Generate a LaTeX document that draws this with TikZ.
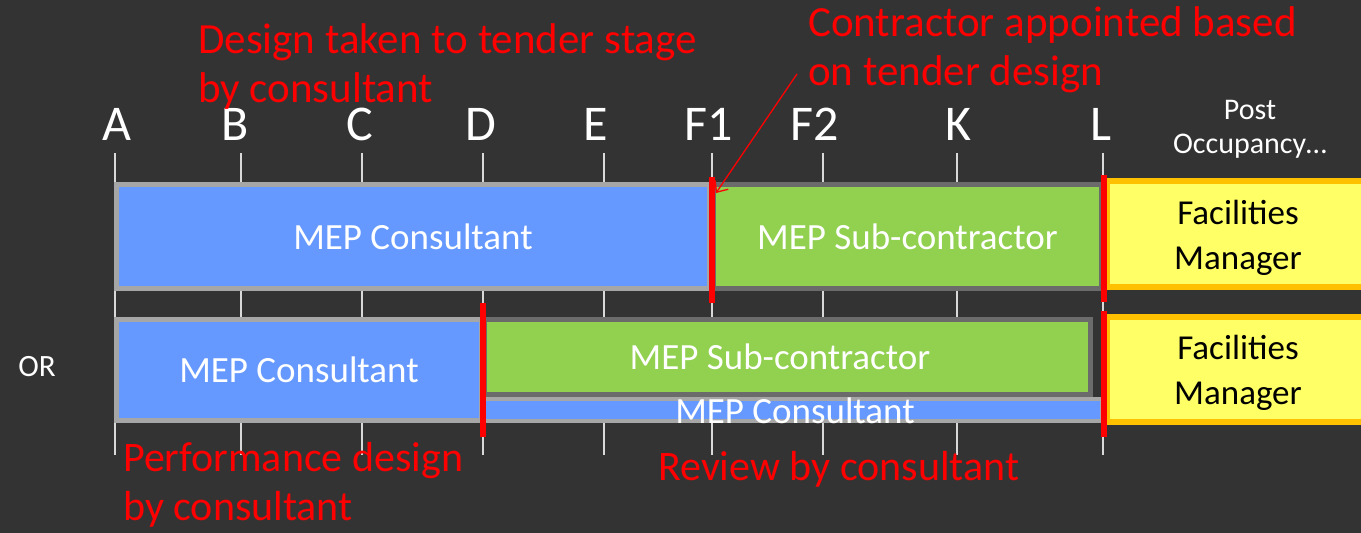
\documentclass[tikz,border=0pt]{standalone}
\usepackage{fontspec}
\setmainfont{Carlito}
\usetikzlibrary{arrows.meta}
\definecolor{bg}{HTML}{333333}
\definecolor{mblue}{HTML}{6699FF}
\definecolor{mgreen}{HTML}{92D050}
\definecolor{myellow}{HTML}{FFFF66}
\definecolor{mgold}{HTML}{FFC000}
\definecolor{lgray}{HTML}{A6A6A6}
\definecolor{dgray}{HTML}{6B6B6B}
\definecolor{tickc}{HTML}{D9D9D9}
\begin{document}
\begin{tikzpicture}[x=1pt,y=-1pt,
  box/.style={draw, line width=5pt, inner sep=0pt, align=center, text=white, font=\fontsize{37}{44}\selectfont},
  consbox/.style={box, fill=mblue, draw=lgray},
  subbox/.style={box, fill=mgreen, draw=dgray},
  fmbox/.style={box, fill=myellow, draw=mgold, line width=6pt},
  fmtext/.style={text=black, font=\fontsize{35}{45}\selectfont, align=center, inner sep=0pt},
  redtxt/.style={text=red, font=\fontsize{43}{48.5}\selectfont, inner sep=0pt, align=left, anchor=base west},
  stage/.style={text=white, font=\fontsize{50}{50}\selectfont, inner sep=0pt, anchor=base},
  tickline/.style={draw=tickc, line width=1.5pt},
  marker/.style={draw=red, line width=6pt},
]
\useasboundingbox[fill=bg] (0,0) rectangle (1361,533);

% ticks
\foreach \x in {115,241,362,483,604,712,823,957,1103}
  \draw[tickline] (\x,153) -- (\x,455);

% stage letters
\node[stage] (sA) at (117,140) {A};
\node[stage] (sB) at (235,140) {B};
\node[stage] (sC) at (360,140) {C};
\node[stage] (sD) at (481,140) {D};
\node[stage] (sE) at (596,140) {E};
\node[stage] (sF1) at (709,140) {F1};
\node[stage] (sF2) at (815,140) {F2};
\node[stage] (sK) at (958,140) {K};
\node[stage] (sL) at (1101,140) {L};
\node[text=white, font=\fontsize{30}{34}\selectfont, align=center, anchor=base, inner sep=0pt] (po) at (1250,153) {Post\\Occupancy…};

% row 1
\node[consbox, minimum width=593pt, minimum height=104pt] (c1) at (413,236.5) {MEP Consultant};
\node[subbox, minimum width=388pt, minimum height=104pt] (s1) at (907.5,236.5) {MEP Sub-contractor};
\node[fmbox, minimum width=262pt, minimum height=106pt] (f1) at (1238,234) {};
\node[fmtext] (f1t) at (1238,238) {Facilities\\Manager};

% row 2
\node[consbox, minimum width=365pt, minimum height=101pt] (c2) at (299,370) {MEP Consultant};
\node[subbox, minimum width=606pt, minimum height=75pt] (s2) at (787.5,357) {};
\node[text=white, font=\fontsize{37}{44}\selectfont, inner sep=0pt] (s2t) at (780,357) {MEP Sub-contractor};
\node[consbox, line width=4pt, minimum width=618pt, minimum height=22pt] (c3) at (793,410) {};
\node[text=white, font=\fontsize{37}{44}\selectfont, inner sep=0pt] (c3t) at (795,411) {MEP Consultant};
\node[fmbox, minimum width=262pt, minimum height=105pt] (f2) at (1238,369.5) {};
\node[fmtext] (f2t) at (1238,373) {Facilities\\Manager};

\node[text=white, font=\fontsize{31}{31}\selectfont, anchor=base, inner sep=0pt] (orl) at (37,376) {OR};

% red markers
\draw[marker] (711.5,177) -- (711.5,303);
\draw[marker] (1104,175) -- (1104,302);
\draw[marker] (1104,311) -- (1104,437);
\draw[marker] (483,303) -- (483,437);

% red annotations
\node[redtxt] (t1) at (198,102) {Design taken to tender stage\\by consultant};
\node[redtxt] (t2) at (808,85) {Contractor appointed based\\on tender design};
\node[redtxt, font=\fontsize{42}{49}\selectfont] (t3) at (123,520) {Performance design\\by consultant};
\node[redtxt, font=\fontsize{42}{49}\selectfont] (t4) at (658,480) {Review by consultant};

\coordinate (arrS) at (797,74);
\coordinate (arrE) at (716,193);
\draw[red, line width=1.3pt, -{Straight Barb[length=9pt,width=16pt]}] (arrS) -- (arrE);
\end{tikzpicture}
\end{document}
